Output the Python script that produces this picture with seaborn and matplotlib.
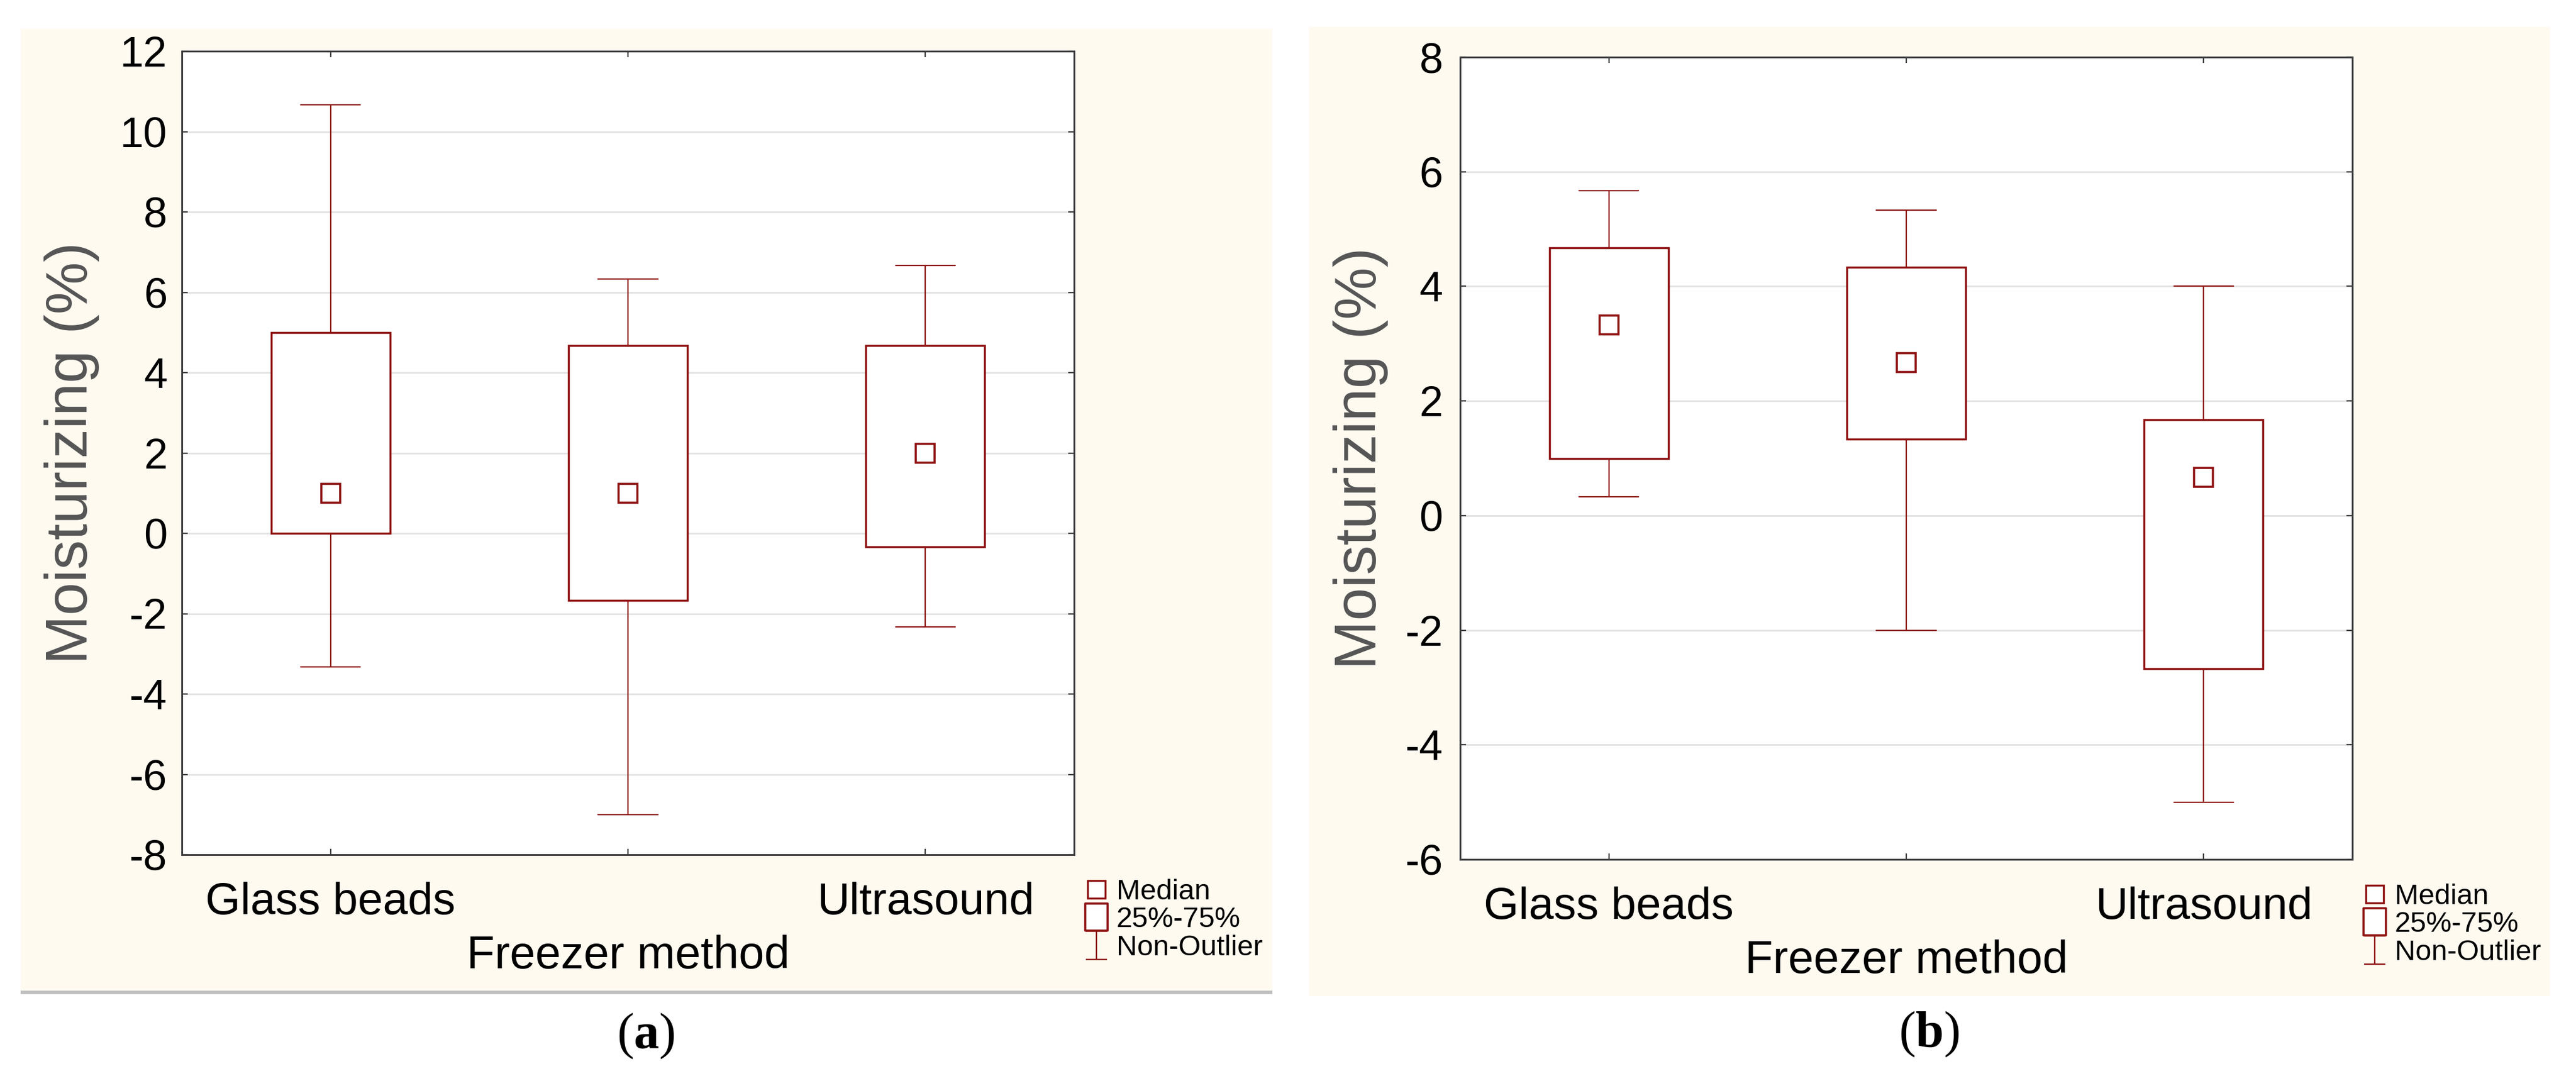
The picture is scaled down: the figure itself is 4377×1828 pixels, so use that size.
import numpy as np
import pandas as pd
import matplotlib
matplotlib.use("Agg")
import matplotlib.pyplot as plt
import seaborn as sns
from matplotlib.patches import Rectangle
from matplotlib.lines import Line2D
from matplotlib.path import Path
from matplotlib.transforms import Bbox, TransformedBbox

# ---------------- data ----------------
categories = ["Glass beads", "Freezer", "Ultrasound"]
tick_labels = ["Glass beads", "", "Ultrasound"]
x_title = "Freezer method"
y_title = "Moisturizing (%)"
legend_labels = ["Median", "25%-75%", "Non-Outlier Range"]
panel_captions = ["a", "b"]

# panel (a)
a_whisker_low = [-3.33, -7.0, -2.33]
a_q1 = [0.0, -1.67, -0.33]
a_median = [1.0, 1.0, 2.0]
a_q3 = [5.0, 4.67, 4.67]
a_whisker_high = [10.67, 6.33, 6.67]
a_yticks = [-8, -6, -4, -2, 0, 2, 4, 6, 8, 10, 12]

# panel (b)
b_whisker_low = [0.33, -2.0, -5.0]
b_q1 = [1.0, 1.33, -2.67]
b_median = [3.33, 2.67, 0.67]
b_q3 = [4.67, 4.33, 1.67]
b_whisker_high = [5.67, 5.33, 4.0]
b_yticks = [-6, -4, -2, 0, 2, 4, 6, 8]

# ---------------- style ----------------
sns.set_theme(style="white")
plt.rcParams["font.family"] = ["Liberation Sans", "DejaVu Sans"]
plt.rcParams["axes.unicode_minus"] = False
plt.rcParams["mathtext.fontset"] = "custom"
plt.rcParams["mathtext.rm"] = "Liberation Serif"
plt.rcParams["mathtext.bf"] = "Liberation Serif:bold"

RED = "#8e1212"
SPINE = "#3c3c3c"
BEIGE = "#fffaf0"
W, H = 4377, 1828

fig = plt.figure(figsize=(W / 100, H / 100), dpi=100)
fig.patch.set_facecolor("white")


def fx(px):
    return px / W


def fy(py):
    return 1 - py / H


def add_bg(x0, y0, x1, y1, color, z=-10):
    r = Rectangle((fx(x0), fy(y1)), fx(x1) - fx(x0), fy(y0) - fy(y1),
                  transform=fig.transFigure, facecolor=color, edgecolor="none", zorder=z)
    fig.patches.append(r)
    return r


# panel backgrounds
add_bg(35, 49, 2162, 1686, BEIGE, z=-10)
add_bg(35, 1683, 2162, 1689, "#c0c0c0", z=-9)
add_bg(2224, 46, 4333, 1692, BEIGE, z=-10)

panels = [
    dict(lo=a_whisker_low, q1=a_q1, med=a_median, q3=a_q3, hi=a_whisker_high,
         yticks=a_yticks, ax_px=(309, 87, 1825, 1452), clip=(35, 49, 2162, 1686),
         ylab_x=-0.1234, ytick_pad=18, cap_xy=(1097, 1760)),
    dict(lo=b_whisker_low, q1=b_q1, med=b_median, q3=b_q3, hi=b_whisker_high,
         yticks=b_yticks, ax_px=(2481, 97, 3997, 1460), clip=(2224, 46, 4333, 1692),
         ylab_x=-0.1115, ytick_pad=21, cap_xy=(3278, 1757)),
]

# legend handles
rect_path = Path([(-0.41, -0.5), (0.41, -0.5), (0.41, 0.5), (-0.41, 0.5), (-0.41, -0.5)],
                 [Path.MOVETO, Path.LINETO, Path.LINETO, Path.LINETO, Path.CLOSEPOLY])
whisk_path = Path([(-0.385, 0.5), (0.385, 0.5), (0, 0.5), (0, -0.5), (-0.385, -0.5), (0.385, -0.5)],
                  [Path.MOVETO, Path.LINETO, Path.MOVETO, Path.LINETO, Path.MOVETO, Path.LINETO])

for i, p in enumerate(panels):
    x0, y0, x1, y1 = p["ax_px"]
    ax = fig.add_axes([fx(x0), fy(y1), fx(x1) - fx(x0), fy(y0) - fy(y1)])
    ax.set_facecolor("white")

    rows = []
    for c, lo, q1, md, q3, hi in zip(categories, p["lo"], p["q1"], p["med"], p["q3"], p["hi"]):
        for v in (lo, q1, md, q3, hi):
            rows.append({"method": c, "value": v})
    df = pd.DataFrame(rows)

    sns.boxplot(data=df, x="method", y="value", order=categories, whis=(0, 100),
                width=0.4, color="white", linecolor=RED, saturation=1, fill=True,
                linewidth=1.6, showfliers=False, medianprops=dict(alpha=0),
                ax=ax)
    for patch in ax.patches:
        patch.set_facecolor("white")
        patch.set_edgecolor(RED)
        patch.set_linewidth(2.5)
        patch.set_zorder(3)
    for ln in ax.lines:
        ln.set_color(RED)
        ln.set_zorder(2.5)

    n_before = len(ax.lines)
    sns.pointplot(data=df, x="method", y="value", order=categories, estimator="median",
                  errorbar=None, color=RED, marker="s", linestyle="none",
                  markersize=23, markeredgewidth=2.6, ax=ax)
    for ln in ax.lines[n_before:]:
        ln.set_markerfacecolor("white")
        ln.set_markeredgecolor(RED)
        ln.set_linestyle("none")
        ln.set_markersize(23)
        ln.set_markeredgewidth(2.6)
        ln.set_zorder(6)

    ax.set_xlim(-0.5, len(categories) - 0.5)
    ax.set_ylim(p["yticks"][0], p["yticks"][-1])
    ax.set_yticks(p["yticks"])
    ax.set_yticklabels([str(t) for t in p["yticks"]])
    ax.set_xticks(range(len(categories)))
    ax.set_xticklabels(tick_labels)

    ax.yaxis.grid(True, color="#e2e2e2", linewidth=2.0)
    ax.xaxis.grid(False)
    ax.set_axisbelow(True)

    for s in ax.spines.values():
        s.set_visible(True)
        s.set_color(SPINE)
        s.set_linewidth(2.2)
        s.set_zorder(8)

    ax.tick_params(axis="both", which="major", direction="in", length=7, width=1.6,
                   color=SPINE, top=True, right=True, bottom=True, left=True,
                   labelcolor="black")
    ax.tick_params(axis="x", labelsize=55, pad=33)
    ax.tick_params(axis="y", labelsize=52, pad=p["ytick_pad"])

    ax.set_xlabel(x_title, fontsize=56, color="black")
    ax.xaxis.set_label_coords(0.5, -0.100)
    ax.set_ylabel(y_title, fontsize=72, color="#555555", va="center")
    ax.yaxis.set_label_coords(p["ylab_x"], 0.5)

    handles = [
        Line2D([0], [0], marker="s", linestyle="none", markersize=22,
               markerfacecolor="white", markeredgecolor=RED, markeredgewidth=2.4),
        Line2D([0], [0], marker=rect_path, linestyle="none", markersize=33,
               markerfacecolor="white", markeredgecolor=RED, markeredgewidth=2.6),
        Line2D([0], [0], marker=whisk_path, linestyle="none", markersize=34.5,
               markerfacecolor="none", markeredgecolor=RED, markeredgewidth=1.7),
    ]
    leg = ax.legend(handles, legend_labels, loc="upper left",
                    bbox_to_anchor=(1.0089, -0.030), frameon=False, fontsize=35,
                    handlelength=1.0, handletextpad=0.2, labelspacing=0.05,
                    borderpad=0, borderaxespad=0, numpoints=1)
    cx0, cy0, cx1, cy1 = p["clip"]
    clipbox = TransformedBbox(Bbox.from_extents(fx(cx0), fy(cy1), fx(cx1), fy(cy0)),
                              fig.transFigure)
    for t in leg.get_texts():
        t.set_color("black")
        t.set_clip_on(True)
        t.set_clip_box(clipbox)

    capx, capy = p["cap_xy"]
    fig.text(fx(capx), fy(capy), "($\\mathbf{" + panel_captions[i] + "}$)",
             ha="center", va="center", fontsize=62, family="Liberation Serif",
             color="black")

fig.savefig("out.png", dpi=100)
